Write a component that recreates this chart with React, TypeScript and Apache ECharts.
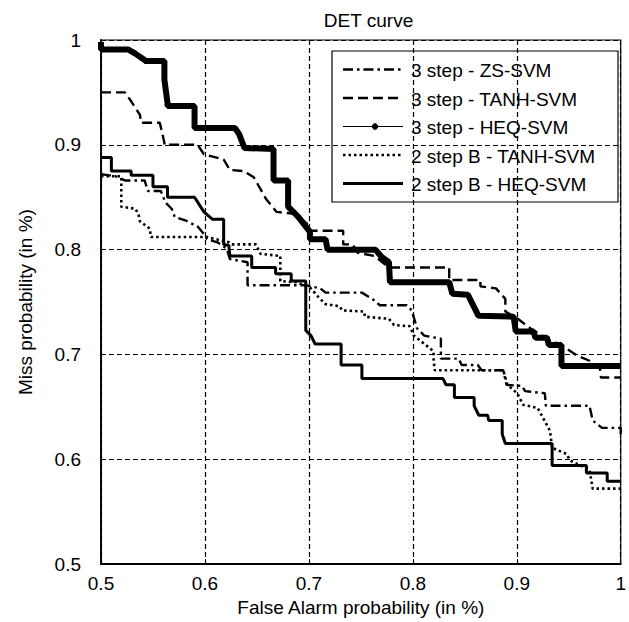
import React, { useEffect, useRef } from "react";
import * as echarts from "echarts";

const chartTitle = "DET curve";
const xAxisName = "False Alarm probability (in %)";
const yAxisName = "Miss probability (in %)";
const xTickLabels = ["0.5", "0.6", "0.7", "0.8", "0.9", "1"];
const yTickLabels = ["0.5", "0.6", "0.7", "0.8", "0.9", "1"];
const seriesNames = [
  "3 step - ZS-SVM",
  "3 step - TANH-SVM",
  "3 step - HEQ-SVM",
  "2 step B - TANH-SVM",
  "2 step B - HEQ-SVM",
];

const zsSvm3: number[][] = [
  [0.5, 0.872], [0.514, 0.87], [0.523, 0.866], [0.542, 0.866], [0.545, 0.856],
  [0.5575, 0.856], [0.562, 0.845], [0.568, 0.839], [0.571, 0.831], [0.581, 0.828],
  [0.593, 0.822], [0.599, 0.815], [0.602, 0.81], [0.612, 0.807], [0.621, 0.801],
  [0.624, 0.791], [0.641, 0.788], [0.641, 0.766], [0.697, 0.766], [0.711, 0.763],
  [0.716, 0.759], [0.751, 0.759], [0.764, 0.751], [0.768, 0.747], [0.794, 0.747],
  [0.799, 0.742], [0.804, 0.725], [0.811, 0.718], [0.827, 0.715], [0.827, 0.696],
  [0.844, 0.696], [0.847, 0.69], [0.8625, 0.69], [0.866, 0.685], [0.887, 0.685],
  [0.89, 0.671], [0.905, 0.67], [0.908, 0.665], [0.927, 0.663], [0.928, 0.651],
  [0.97, 0.651], [0.973, 0.637], [0.982, 0.63], [1.0, 0.63], [1.0, 0.624],
];

const tanhSvm3: number[][] = [
  [0.5, 0.95], [0.523, 0.95], [0.528, 0.943], [0.5375, 0.9285], [0.5385, 0.921],
  [0.5566, 0.921], [0.561, 0.902], [0.561, 0.9], [0.593, 0.9], [0.599, 0.891],
  [0.618, 0.886], [0.624, 0.876], [0.637, 0.875], [0.647, 0.869], [0.659, 0.848],
  [0.669, 0.836], [0.688, 0.834], [0.701, 0.822], [0.701, 0.818], [0.733, 0.818],
  [0.733, 0.805], [0.742, 0.805], [0.747, 0.797], [0.763, 0.794], [0.777, 0.783],
  [0.835, 0.783], [0.835, 0.771], [0.865, 0.771], [0.865, 0.765], [0.88, 0.763],
  [0.889, 0.753], [0.889, 0.741], [0.901, 0.734], [0.913, 0.725], [0.929, 0.715],
  [0.944, 0.708], [0.958, 0.699], [0.97, 0.694], [0.98, 0.687], [0.981, 0.678],
  [1.0, 0.678],
];

const heqSvm3: number[][] = [
  [0.5, 0.998], [0.5, 0.991], [0.526, 0.991], [0.533, 0.987], [0.542, 0.981],
  [0.542, 0.98], [0.561, 0.98], [0.561, 0.962], [0.564, 0.94], [0.564, 0.937],
  [0.59, 0.937], [0.59, 0.916], [0.629, 0.916], [0.633, 0.91], [0.638, 0.897],
  [0.666, 0.896], [0.666, 0.866], [0.68, 0.866], [0.68, 0.841], [0.69, 0.831],
  [0.701, 0.817], [0.701, 0.81], [0.716, 0.81], [0.718, 0.8], [0.764, 0.8],
  [0.77, 0.793], [0.777, 0.788], [0.778, 0.769], [0.835, 0.769], [0.838, 0.758],
  [0.853, 0.757], [0.863, 0.737], [0.897, 0.736], [0.899, 0.722], [0.916, 0.722],
  [0.918, 0.716], [0.929, 0.716], [0.931, 0.709], [0.943, 0.709], [0.943, 0.689],
  [1.0, 0.689],
];

const tanhSvm2B: number[][] = [
  [0.5, 0.87], [0.5195, 0.87], [0.5195, 0.841], [0.533, 0.839], [0.536, 0.834],
  [0.5375, 0.827], [0.547, 0.82], [0.548, 0.812], [0.602, 0.812], [0.623, 0.807],
  [0.626, 0.805], [0.649, 0.805], [0.6535, 0.796], [0.6725, 0.794], [0.6725, 0.77],
  [0.687, 0.769], [0.701, 0.764], [0.709, 0.755], [0.716, 0.748], [0.7295, 0.746],
  [0.732, 0.742], [0.753, 0.741], [0.754, 0.736], [0.777, 0.734], [0.782, 0.728],
  [0.797, 0.727], [0.801, 0.718], [0.82, 0.703], [0.82, 0.695], [0.821, 0.685],
  [0.887, 0.685], [0.891, 0.671], [0.9005, 0.663], [0.906, 0.652], [0.92, 0.649],
  [0.925, 0.64], [0.932, 0.627], [0.934, 0.611], [0.948, 0.605], [0.951, 0.599],
  [0.97, 0.59], [0.973, 0.572], [1.0, 0.572],
];

const heqSvm2B: number[][] = [
  [0.5, 0.888], [0.51, 0.888], [0.51, 0.875], [0.529, 0.875], [0.529, 0.871],
  [0.55, 0.871], [0.55, 0.86], [0.564, 0.86], [0.564, 0.85], [0.59, 0.85],
  [0.599, 0.836], [0.607, 0.829], [0.618, 0.829], [0.618, 0.805], [0.623, 0.804],
  [0.624, 0.794], [0.645, 0.794], [0.645, 0.783], [0.668, 0.783], [0.668, 0.777],
  [0.683, 0.777], [0.683, 0.77], [0.697, 0.77], [0.697, 0.723], [0.702, 0.718],
  [0.706, 0.71], [0.731, 0.71], [0.731, 0.69], [0.751, 0.69], [0.751, 0.677],
  [0.829, 0.677], [0.832, 0.671], [0.84, 0.671], [0.84, 0.659], [0.859, 0.659],
  [0.859, 0.651], [0.8635, 0.642], [0.872, 0.642], [0.873, 0.637], [0.886, 0.637],
  [0.886, 0.624], [0.889, 0.615], [0.934, 0.615], [0.934, 0.594], [0.967, 0.594],
  [0.967, 0.587], [0.987, 0.587], [0.987, 0.579], [1.0, 0.579],
];

const seriesData = [zsSvm3, tanhSvm3, heqSvm3, tanhSvm2B, heqSvm2B];

const FONT = "Liberation Sans, Arial, sans-serif";
const FS = 19;

const styles: { w: number; lw: number; dash: number[] | "solid" }[] = [
  { w: 2.4, lw: 2.4, dash: [10, 4, 2.5, 4] },
  { w: 2.4, lw: 2.6, dash: [10, 5] },
  { w: 6, lw: 1, dash: "solid" },
  { w: 2.6, lw: 2.6, dash: [2.5, 3] },
  { w: 3, lw: 3.2, dash: "solid" },
];

export default function App() {
  const ref = useRef<HTMLDivElement>(null);
  useEffect(() => {
    document.body.style.margin = "0";
    if (!ref.current) return;
    const chart = echarts.init(ref.current, undefined, { renderer: "svg" });

    const legendX = 332;
    const legendY = 51;
    const legendW = 286;
    const legendH = 151;
    const rowY0 = 69.5;
    const rowStep = 28.5;

    const legendChildren: any[] = [
      {
        type: "rect",
        shape: { x: legendX, y: legendY, width: legendW, height: legendH },
        style: { fill: "#fff", stroke: "#000", lineWidth: 1.2 },
      },
    ];
    seriesNames.forEach((name, i) => {
      const yc = rowY0 + i * rowStep;
      const st = styles[i];
      legendChildren.push({
        type: "line",
        shape: { x1: 343, y1: yc, x2: 403, y2: yc },
        style: {
          stroke: "#000",
          lineWidth: st.lw,
          lineDash: st.dash === "solid" ? null : st.dash,
        },
      });
      if (i === 2) {
        legendChildren.push({
          type: "circle",
          shape: { cx: 375, cy: yc, r: 2.8 },
          style: { fill: "#000", stroke: "#000" },
        });
      }
      legendChildren.push({
        type: "text",
        x: 411,
        y: yc + 1,
        style: {
          text: name,
          fill: "#000",
          font: `${FS}px ${FONT}`,
          verticalAlign: "middle",
          textVerticalAlign: "middle",
        },
      });
    });

    const tickFmt = (labels: string[]) => (v: number) => {
      const idx = Math.round((v - 0.5) * 10);
      return labels[idx] ?? "";
    };

    chart.setOption({
      animation: false,
      backgroundColor: "#fff",
      title: {
        text: chartTitle,
        left: 363.5,
        top: 6,
        textAlign: "center",
        textStyle: { fontFamily: FONT, fontSize: FS, fontWeight: "normal", color: "#000" },
      },
      grid: {
        left: 101,
        top: 40,
        right: 3,
        bottom: 55,
        show: true,
        borderColor: "#000",
        borderWidth: 1.2,
        backgroundColor: "transparent",
      },
      xAxis: {
        type: "value",
        min: 0.5,
        max: 1,
        interval: 0.1,
        name: xAxisName,
        nameLocation: "middle",
        nameGap: 33,
        nameTextStyle: { fontFamily: FONT, fontSize: FS, color: "#000" },
        axisLine: { show: true, lineStyle: { color: "#000", width: 1.8 } },
        axisTick: { show: true, inside: true, length: 5, lineStyle: { color: "#000" } },
        axisLabel: {
          formatter: tickFmt(xTickLabels),
          fontFamily: FONT,
          fontSize: FS,
          color: "#000",
          margin: 10,
        },
        splitLine: { show: true, lineStyle: { color: "#000", width: 1.2, type: [5, 3] } },
      },
      yAxis: {
        type: "value",
        min: 0.5,
        max: 1,
        interval: 0.1,
        name: yAxisName,
        nameLocation: "middle",
        nameGap: 66,
        nameRotate: 90,
        nameTextStyle: { fontFamily: FONT, fontSize: FS, color: "#000" },
        axisLine: { show: true, lineStyle: { color: "#000", width: 1.8 } },
        axisTick: { show: true, inside: true, length: 5, lineStyle: { color: "#000" } },
        axisLabel: {
          formatter: tickFmt(yTickLabels),
          fontFamily: FONT,
          fontSize: FS,
          color: "#000",
          margin: 20,
        },
        splitLine: { show: true, lineStyle: { color: "#000", width: 1.2, type: [5, 3] } },
      },
      series: seriesData.map((d, i) => ({
        name: seriesNames[i],
        type: "line",
        data: d,
        showSymbol: false,
        symbol: "none",
        clip: true,
        lineStyle: {
          color: "#000",
          width: styles[i].w,
          type: styles[i].dash,
        },
        z: i === 2 ? 3 : 4,
      })),
      graphic: [{ type: "group", z: 100, children: legendChildren }],
    });

    return () => chart.dispose();
  }, []);

  return <div ref={ref} style={{ width: 629, height: 622 }} />;
}
